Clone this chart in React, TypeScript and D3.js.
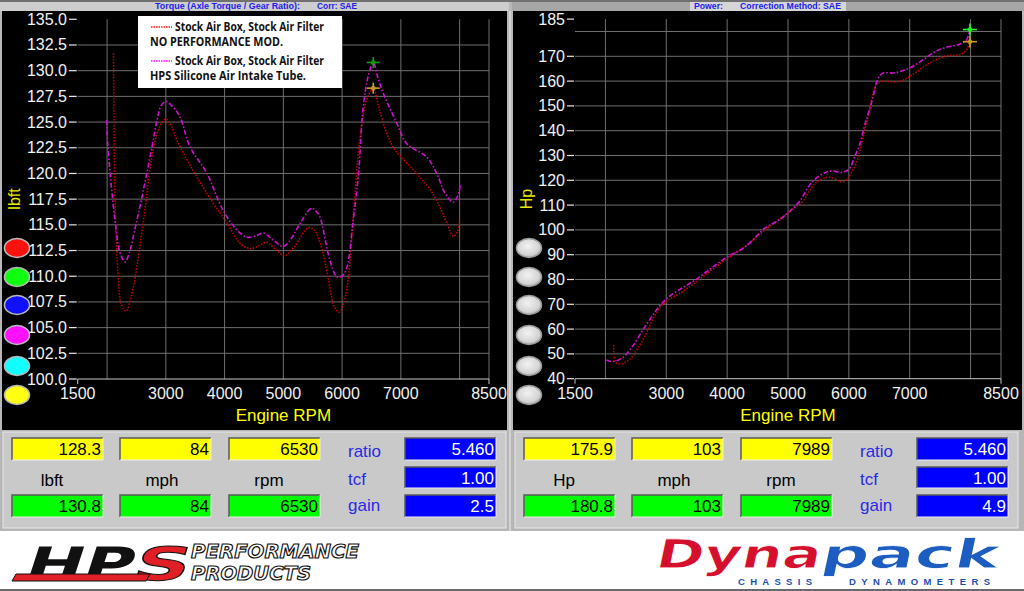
import React from 'react';
import * as d3 from 'd3';

// x axis (engine rpm), shared by both charts
const rpmLabels = [1500, 3000, 4000, 5000, 6000, 7000, 8500];
const rpmGrid = [2000, 3000, 4000, 5000, 6000, 7000, 8000, 8500];

const torqueTicks = [100, 102.5, 105, 107.5, 110, 112.5, 115, 117.5, 120, 122.5, 125, 127.5, 130, 132.5, 135];
const torqueGrid = [102.5, 105, 107.5, 110, 112.5, 115, 117.5, 120, 122.5, 125, 127.5, 130, 132.5];
const powerTicks = [40, 50, 60, 70, 80, 90, 100, 110, 120, 130, 140, 150, 160, 170, 185];
const powerGrid = [50, 60, 70, 80, 90, 100, 110, 120, 130, 140, 150, 160, 170, 180];

// [rpm, lbft]
const torqueStock: [number, number][] = [
  [2110, 131.7], [2116, 126], [2128, 119.5], [2150, 114.5], [2190, 109.8], [2240, 107.3], [2321, 106.6],
  [2400, 107.8], [2475, 109.8], [2615, 115.2], [2785, 122.3], [2900, 124.6], [3000, 125.3], [3080, 124.8],
  [3183, 123.3], [3461, 120.3], [3806, 117.1], [4040, 115.2], [4262, 113.2], [4432, 112.7], [4600, 113.0],
  [4717, 113.3], [4870, 112.6], [5026, 112.0], [5200, 113.0], [5420, 114.7], [5520, 114.5], [5640, 113.0],
  [5760, 109.9], [5870, 107.0], [5950, 106.5], [6030, 107.5], [6100, 109.6], [6200, 116.5], [6300, 123.3],
  [6420, 127.2], [6530, 128.3], [6620, 126.5], [6760, 123.9], [6900, 122.3], [7270, 120.0], [7550, 118.0],
  [7780, 115.2], [7890, 113.9], [7960, 114.3], [8000, 115.5],
];
const torqueHps: [number, number][] = [
  [1993, 125.2], [2010, 123], [2060, 119.5], [2134, 115.5], [2220, 112.3], [2306, 111.4], [2380, 112.3],
  [2470, 114.5], [2560, 116.8], [2765, 122.6], [2850, 125.2], [2920, 126.6], [3000, 127.0], [3100, 126.6],
  [3240, 125.5], [3410, 122.6], [3700, 120.0], [3975, 116.4], [4210, 114.5], [4375, 113.8], [4520, 113.9],
  [4660, 114.2], [4830, 113.5], [5000, 112.9], [5150, 113.8], [5290, 115.2], [5480, 116.6], [5560, 116.3],
  [5620, 115.8], [5790, 111.6], [5900, 110.0], [5960, 109.9], [6030, 110.2], [6100, 111.3], [6180, 115.0],
  [6280, 120.0], [6360, 126.5], [6450, 129.6], [6530, 130.8], [6600, 129.5], [6700, 127.8], [6930, 124.9],
  [7100, 122.9], [7440, 121.6], [7610, 120.0], [7750, 118.1], [7890, 117.2], [7975, 117.9], [8010, 118.9],
];

// [rpm, hp]
const powerStock: [number, number][] = [
  [2135, 53.6], [2140, 49.5], [2170, 46.6], [2240, 45.9], [2385, 47.5], [2550, 52.9], [2710, 60.3],
  [2900, 69.0], [3040, 71.7], [3310, 75.8], [3650, 82.0], [3970, 87.9], [4300, 93.5], [4625, 100.0],
  [5020, 107.3], [5235, 111.4], [5450, 118.9], [5645, 121.2], [5760, 120.8], [5860, 119.4], [5940, 119.8],
  [6000, 121.4], [6140, 128.2], [6220, 136.2], [6330, 147.0], [6435, 157.7], [6520, 159.8], [6825, 159.8],
  [7040, 162.5], [7320, 167.2], [7590, 170.1], [7835, 170.8], [7930, 172.5], [7989, 175.9],
];
const powerHps: [number, number][] = [
  [2015, 47.5], [2110, 46.9], [2270, 48.3], [2440, 52.9], [2650, 61.0], [2880, 69.0], [3010, 72.4],
  [3210, 75.8], [3475, 79.8], [3970, 88.6], [4300, 93.2], [4625, 100.8], [4855, 104.0], [5020, 107.3],
  [5185, 111.4], [5400, 119.4], [5615, 123.2], [5730, 123.7], [5890, 123.2], [6010, 124.8], [6105, 130.2],
  [6165, 133.5], [6270, 143.0], [6385, 152.4], [6470, 160.4], [6550, 163.1], [6765, 163.4], [7040, 165.8],
  [7420, 171.9], [7585, 173.5], [7810, 174.8], [7930, 176.5], [7989, 180.8],
];

// cursor readouts: [rpm, stock, hps]
const torqueCursor = [6530, 128.3, 130.8];
const powerCursor = [7989, 175.9, 180.8];

const torqueTop = ['128.3', '84', '6530'];
const torqueBottom = ['130.8', '84', '6530'];
const torqueUnits = ['lbft', 'mph', 'rpm'];
const torqueFactors = ['5.460', '1.00', '2.5'];
const powerTop = ['175.9', '103', '7989'];
const powerBottom = ['180.8', '103', '7989'];
const powerUnits = ['Hp', 'mph', 'rpm'];
const powerFactors = ['5.460', '1.00', '4.9'];
const factorNames = ['ratio', 'tcf', 'gain'];

const buttonColors = ['#ff1010', '#10ff10', '#1010ff', '#ff10ff', '#10ffff', '#ffff10'];
const buttonY = [248, 277, 305, 335, 366, 395];

const SANS = '"Liberation Sans", Arial, sans-serif';

interface ChartProps {
  ox: number;
  xRange: [number, number];
  yDomain: [number, number];
  yRange: [number, number];
  ticks: number[];
  grid: number[];
  fmt: (v: number) => string;
  stock: [number, number][];
  hps: [number, number][];
  cursor: number[];
  yLabel: string;
  labelEnd: number;
  colored: boolean;
  big: boolean;
}

function Cross({ cx, cy, color, size }: { cx: number; cy: number; color: string; size: number }) {
  return (
    <g stroke={color} strokeWidth={1.6}>
      <line x1={cx - size} x2={cx + size} y1={cy} y2={cy} />
      <line x1={cx} x2={cx} y1={cy - size * 0.85} y2={cy + size * 0.85} />
      <circle cx={cx} cy={cy} r={2} fill="none" strokeWidth={1} />
    </g>
  );
}

function DynoChart(p: ChartProps) {
  const x = d3.scaleLinear().domain([1500, 8500]).range(p.xRange);
  const y = d3.scaleLinear().domain(p.yDomain).range(p.yRange);
  const line = d3
    .line<[number, number]>()
    .x((d) => x(d[0]))
    .y((d) => y(d[1]))
    .curve(d3.curveCatmullRom.alpha(0.5));
  const [x0, x1] = p.xRange;
  const yb = p.yRange[0];
  const yt = p.yRange[1];

  return (
    <g>
      {/* grid */}
      <g stroke="#6e6e6e" strokeWidth={1}>
        {rpmGrid.map((r) => (
          <line key={r} x1={x(r)} x2={x(r)} y1={yt} y2={yb} />
        ))}
        {p.grid.map((v) => (
          <line key={v} x1={x0} x2={x1} y1={y(v)} y2={y(v)} />
        ))}
      </g>
      <line x1={x0} x2={x1} y1={yb} y2={yb} stroke="#c8c8c8" />
      <g stroke="#c8c8c8">
        <line x1={x(1500)} x2={x(1500)} y1={yb} y2={yb + 5} />
        <line x1={x(8500)} x2={x(8500)} y1={yb} y2={yb + 5} />
      </g>

      {/* y ticks */}
      {p.ticks.map((v) => (
        <g key={v}>
          <line x1={p.labelEnd + 2} x2={x0 - 1} y1={y(v)} y2={y(v)} stroke="#e8e8e8" strokeWidth={1.2} />
          <text x={p.labelEnd} y={y(v) + 5.5} textAnchor="end" fontFamily={SANS} fontSize={16} fill="#f2f2f2">
            {p.fmt(v)}
          </text>
        </g>
      ))}
      {/* x ticks */}
      {rpmLabels.map((r) => (
        <text key={r} x={x(r)} y={yb + 20} textAnchor="middle" fontFamily={SANS} fontSize={16} fill="#f2f2f2">
          {r}
        </text>
      ))}
      <text x={(x0 + x1) / 2} y={yb + 42} textAnchor="middle" fontFamily={SANS} fontSize={17} fill="#ffff00">
        Engine RPM
      </text>
      <text
        transform={`translate(${p.ox + 20},199) rotate(-90)`}
        textAnchor="middle"
        fontFamily={SANS}
        fontSize={16}
        fill="#e8e800"
      >
        {p.yLabel}
      </text>

      {/* curves */}
      <path d={line(p.stock) ?? ''} fill="none" stroke="#d00000" strokeWidth={1.5} strokeDasharray="1.5,1.5" />
      <path d={line(p.hps) ?? ''} fill="none" stroke="#d010d0" strokeWidth={1.6} strokeDasharray="5,2,1.5,2" />

      {/* cursors */}
      <Cross cx={x(p.cursor[0])} cy={y(p.cursor[2])} color={p.big ? '#20ff20' : '#10a010'} size={p.big ? 7 : 6.5} />
      <Cross cx={x(p.cursor[0])} cy={y(p.cursor[1])} color="#c8a020" size={p.big ? 7 : 6.5} />

      {/* side buttons */}
      <defs>
        <radialGradient id="btnGray" cx="45%" cy="40%" r="65%">
          <stop offset="0%" stopColor="#f2f2f2" />
          <stop offset="70%" stopColor="#d4d4d4" />
          <stop offset="100%" stopColor="#a8a8a8" />
        </radialGradient>
      </defs>
      {buttonY.map((cy, i) => (
        <ellipse
          key={cy}
          cx={p.ox + 17}
          cy={cy}
          rx={12.5}
          ry={9.5}
          fill={p.colored ? buttonColors[i] : 'url(#btnGray)'}
          stroke={p.colored ? '#b8b8b8' : '#9a9a9a'}
          strokeWidth={1.5}
        />
      ))}
    </g>
  );
}

function Sunken({ x, y, w, h, fill }: { x: number; y: number; w: number; h: number; fill: string }) {
  return (
    <g>
      <rect x={x} y={y} width={w} height={h} fill={fill} />
      <polyline points={`${x},${y + h} ${x},${y} ${x + w},${y}`} fill="none" stroke="#5a5a5a" strokeWidth={1.5} />
      <polyline points={`${x + w},${y} ${x + w},${y + h} ${x},${y + h}`} fill="none" stroke="#eeeeee" strokeWidth={1} />
    </g>
  );
}

function Readout({ ox, top, bottom, units, factors }: { ox: number; top: string[]; bottom: string[]; units: string[]; factors: string[] }) {
  const cols = [12, 120, 229];
  const centers = [52, 162, 269];
  const blueY = [438, 467, 495];
  const nameY = [457, 485, 511];
  return (
    <g fontFamily={SANS} fontSize={17}>
      <rect x={ox + 3} y={432} width={503} height={96} fill="#c9c9c9" stroke="#e6e6e6" strokeWidth={1} />
      {cols.map((c, i) => (
        <g key={c}>
          <Sunken x={ox + c} y={438} w={91} h={22} fill="#ffff00" />
          <text x={ox + c + 89} y={455} textAnchor="end" fill="#000">
            {top[i]}
          </text>
          <text x={ox + centers[i]} y={486} textAnchor="middle" fill="#000">
            {units[i]}
          </text>
          <Sunken x={ox + c} y={495} w={91} h={22} fill="#00ff00" />
          <text x={ox + c + 89} y={512} textAnchor="end" fill="#000">
            {bottom[i]}
          </text>
        </g>
      ))}
      {factorNames.map((n, i) => (
        <g key={n}>
          <text x={ox + 348} y={nameY[i]} fill="#2a2ae6">
            {n}
          </text>
          <Sunken x={ox + 405} y={blueY[i]} w={91} h={i === 1 ? 21 : 22} fill="#0000ff" />
          <text x={ox + 494} y={blueY[i] + 17} textAnchor="end" fill="#ffffff">
            {factors[i]}
          </text>
        </g>
      ))}
    </g>
  );
}

export default function App() {
  return (
    <svg width={1024} height={591} style={{ position: 'absolute', left: 0, top: 0 }}>
      <rect width={1024} height={591} fill="#b8b8b8" />
      {/* header */}
      <rect x={0} y={0} width={1024} height={2} fill="#707070" />
      <rect x={0} y={2} width={509} height={9} fill="#cdcdcd" />
      <rect x={512} y={2} width={512} height={9} fill="#a6a6a6" />
      <rect x={690} y={2} width={156} height={9} fill="#d6d6d6" />
      <g fontFamily={SANS} fontSize={9} fontWeight="bold" fill="#1c1cf0">
        <text x={155} y={9} textLength={145} lengthAdjust="spacingAndGlyphs">
          Torque (Axle Torque / Gear Ratio):
        </text>
        <text x={317} y={9} textLength={40} lengthAdjust="spacingAndGlyphs">
          Corr: SAE
        </text>
        <text x={694} y={9} textLength={29} lengthAdjust="spacingAndGlyphs">
          Power:
        </text>
        <text x={740} y={9} textLength={101} lengthAdjust="spacingAndGlyphs">
          Correction Method: SAE
        </text>
      </g>

      {/* chart panels */}
      <rect x={2} y={11} width={505} height={419} fill="#000" />
      <rect x={513} y={11} width={509} height={419} fill="#000" />
      <line x1={510} x2={510} y1={11} y2={430} stroke="#dcdcdc" strokeWidth={1.5} />

      <DynoChart
        ox={0}
        xRange={[77.7, 489]}
        yDomain={[100, 135]}
        yRange={[379, 19.3]}
        ticks={torqueTicks}
        grid={torqueGrid}
        fmt={(v) => v.toFixed(1)}
        stock={torqueStock}
        hps={torqueHps}
        cursor={torqueCursor}
        yLabel="lbft"
        labelEnd={67}
        colored
        big={false}
      />
      <DynoChart
        ox={512}
        xRange={[575, 1001]}
        yDomain={[40, 185]}
        yRange={[378.7, 19.1]}
        ticks={powerTicks}
        grid={powerGrid}
        fmt={(v) => String(v)}
        stock={powerStock}
        hps={powerHps}
        cursor={powerCursor}
        yLabel="Hp"
        labelEnd={565}
        colored={false}
        big
      />

      {/* legend */}
      <rect x={138} y={16} width={204} height={72} fill="#ffffff" />
      <line x1={151} x2={172} y1={27} y2={27} stroke="#ff1a1a" strokeWidth={1.3} strokeDasharray="1.5,1" />
      <line x1={151} x2={172} y1={61} y2={61} stroke="#ff10ff" strokeWidth={1.3} strokeDasharray="1.5,1" />
      <g fontFamily='"Open Sans", sans-serif' fontSize={13} fill="#111" fontWeight={700}>
        <text x={175} y={30.5} textLength={149} lengthAdjust="spacingAndGlyphs">
          Stock Air Box, Stock Air Filter
        </text>
        <text x={150} y={45.5} textLength={133} lengthAdjust="spacingAndGlyphs">
          NO PERFORMANCE MOD.
        </text>
        <text x={175} y={65} textLength={149} lengthAdjust="spacingAndGlyphs">
          Stock Air Box, Stock Air Filter
        </text>
        <text x={150} y={79.5} textLength={156} lengthAdjust="spacingAndGlyphs">
          HPS Silicone Air Intake Tube.
        </text>
      </g>

      {/* readouts */}
      <rect x={0} y={430} width={1024} height={101} fill="#b6b6b6" />
      <line x1={510} x2={510} y1={430} y2={531} stroke="#dcdcdc" strokeWidth={1.5} />
      <Readout ox={0} top={torqueTop} bottom={torqueBottom} units={torqueUnits} factors={torqueFactors} />
      <Readout ox={512} top={powerTop} bottom={powerBottom} units={powerUnits} factors={powerFactors} />

      {/* logo strip */}
      <rect x={0} y={531} width={1024} height={58} fill="#ffffff" />
      <rect x={0} y={589} width={1024} height={2} fill="#6a6a6a" />

      {/* HPS logo */}
      <g transform="translate(14,580) skewX(-18)">
        <text x={8} y={0} fontFamily='"DejaVu Sans", sans-serif' fontWeight="bold" fontSize={46} textLength={108} lengthAdjust="spacingAndGlyphs" fill="#111">
          HP
        </text>
        <text x={116} y={0} fontFamily='"DejaVu Sans", sans-serif' fontWeight="bold" fontSize={46} textLength={56} lengthAdjust="spacingAndGlyphs" fill="#e01e26" stroke="#111" strokeWidth={1}>
          S
        </text>
      </g>
      <polygon points="12,581 16,574 150,574 146,581" fill="#e01e26" stroke="#111" strokeWidth={1} />
      <g fontFamily='"DejaVu Sans", sans-serif' fontWeight="bold" fontStyle="italic" fill="#ffffff" stroke="#111" strokeWidth={1.2}>
        <text x={191} y={558} fontSize={20} textLength={168} lengthAdjust="spacingAndGlyphs">
          PERFORMANCE
        </text>
        <text x={191} y={580} fontSize={20} textLength={120} lengthAdjust="spacingAndGlyphs">
          PRODUCTS
        </text>
      </g>

      {/* Dynapack logo */}
      <g transform="translate(650,568) skewX(-12)" fontFamily='"DejaVu Sans", sans-serif' fontWeight="bold" fontSize={40} stroke="#ffffff" strokeWidth={0.8}>
        <text x={4} y={0} textLength={165} lengthAdjust="spacingAndGlyphs" fill="#d4102c">
          Dyna
        </text>
        <text x={169} y={0} textLength={178} lengthAdjust="spacingAndGlyphs" fill="#1d5cc0">
          pack
        </text>
      </g>
      <g fontFamily={SANS} fontWeight="bold" fontSize={9.5} fill="#1d4fb0">
        <text x={738} y={585} textLength={74} lengthAdjust="spacing">
          CHASSIS
        </text>
        <text x={849} y={585} textLength={141} lengthAdjust="spacing">
          DYNAMOMETERS
        </text>
      </g>
    </svg>
  );
}
